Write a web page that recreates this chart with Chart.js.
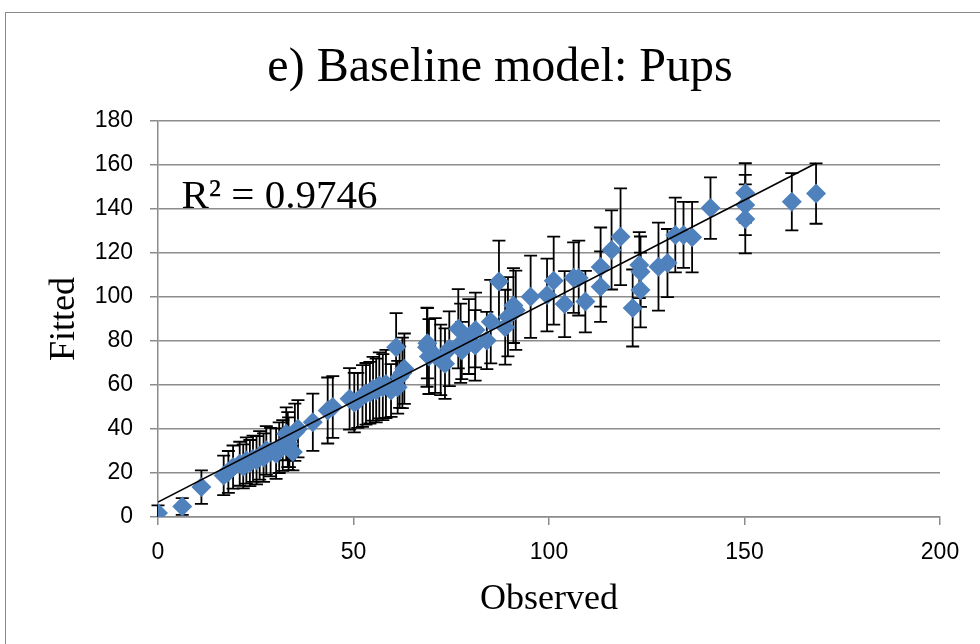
<!DOCTYPE html>
<html>
<head>
<meta charset="utf-8">
<title>e) Baseline model: Pups</title>
<script src="https://cdn.jsdelivr.net/npm/chart.js@4.4.1/dist/chart.umd.min.js"></script>
<style>
  html, body { margin: 0; padding: 0; background: #fff; }
  #wrap { position: relative; width: 980px; height: 644px; overflow: hidden; }
  #frame { position: absolute; left: 5px; top: 12px; width: 1000px; height: 700px; border: 1.5px solid #8a8a8a; }
  canvas { position: absolute; left: 0; top: 0; }
</style>
</head>
<body>
<div id="wrap">
  <div id="frame"></div>
  <canvas id="chart" width="980" height="644"></canvas>
</div>
<script>
// values
const observed = [0, 6.2, 11.1, 16.8, 18.0, 19.2, 20.9, 21.8, 22.6, 23.5, 24.3, 25.2, 26.0, 27.0, 27.7, 28.8,
  30.2, 31.0, 31.9, 32.8, 33.2, 33.4, 33.6, 34.5, 35.0, 35.8, 39.6, 43.4, 44.7, 49.0, 50.2, 51.1, 52.3, 53.2,
  54.2, 55.0, 55.8, 56.6, 57.5, 58.3, 59.6, 60.9, 61.3, 61.8, 62.5, 63.0, 68.8, 68.9, 69.3, 70.9, 72.3, 73.4,
  74.5, 76.8, 77.4, 77.7, 79.5, 81.1, 81.2, 84.1, 85.1, 87.2, 88.8, 89.5, 90.9, 91.5, 95.3, 99.5, 101.2, 104.0,
  106.3, 107.6, 109.3, 113.2, 113.2, 116.0, 118.3, 121.4, 123.1, 123.4, 123.4, 128.0, 130.3, 132.3, 134.4,
  136.6, 141.3, 150.2, 150.2, 150.2, 162.1, 168.3];
const fitted = [1.8, 4.8, 13.6, 18.9, 20.5, 22.7, 24.2, 23.0, 25.7, 24.5, 26.5, 25.8, 28.0, 27.0, 30.3, 29.5,
  28.8, 31.5, 32.5, 37.8, 35.2, 33.3, 31.0, 29.5, 38.5, 40.1, 43.1, 48.4, 50.0, 53.7, 52.0, 53.0, 55.0, 56.0,
  56.5, 58.3, 57.5, 59.8, 59.0, 60.5, 57.5, 77.2, 59.0, 63.6, 65.5, 67.4, 77.2, 79.0, 72.9, 73.4, 71.4, 69.7,
  76.5, 85.6, 79.0, 75.7, 82.0, 78.0, 85.0, 80.2, 88.8, 107.0, 86.3, 91.0, 96.1, 94.0, 100.1, 100.9, 107.4, 96.8,
  108.8, 108.6, 97.9, 104.7, 113.6, 121.4, 127.4, 95.0, 114.5, 111.5, 103.2, 113.8, 115.4, 128.2, 128.2,
  127.2, 140.4, 147.3, 141.8, 135.5, 143.3, 147.0];
const fittedErr = [3.5, 3.8, 7.6, 9, 9.5, 9.8, 10, 10, 10.5, 10.5, 10.5, 11, 11, 11, 11, 11,
  11.5, 11.5, 11.5, 12, 12.5, 12, 8.3, 8.3, 13, 13, 13, 15, 14, 14, 13.5, 12.5, 14, 14,
  14, 14.5, 14.5, 15, 15, 15.5, 12, 15.5, 12, 14, 16, 16, 18, 16, 17, 17, 16, 16,
  17, 18, 18, 13, 17, 16, 17, 13, 19, 18.6, 17, 18, 17, 18, 18.7, 16.5, 20, 15,
  16, 17, 14, 16, 18, 18, 22, 17.5, 15, 16, 17, 20, 15.5, 17, 15,
  16, 14, 13.5, 13.7, 15.7, 13, 13.7];

// linear trendline end points
const trendX = [0, 168.3];
const trendY = [6.8, 160.8];
const rSquaredLabel = 'R² = 0.9746';

const xTicks = [0, 50, 100, 150, 200];
const yTicks = [0, 20, 40, 60, 80, 100, 120, 140, 160, 180];

const serif = "'Liberation Serif', 'Times New Roman', serif";
const sans = "'Liberation Sans', Arial, sans-serif";
const gridGray = '#8c8c8c';

const points = observed.map((x, i) => ({ x: x, y: fitted[i] }));
const trend = trendX.map((x, i) => ({ x: x, y: trendY[i] }));

// vertical error bars, drawn under the markers
const errorBars = {
    id: 'errorBars',
    beforeDatasetsDraw(chart) {
        const { ctx, chartArea } = chart;
        const xs = chart.scales.x;
        const ys = chart.scales.y;
        ctx.save();
        ctx.strokeStyle = '#000';
        ctx.lineWidth = 1.8;
        observed.forEach((obs, i) => {
            const px = xs.getPixelForValue(obs);
            const top = ys.getPixelForValue(fitted[i] + fittedErr[i]);
            const bot = Math.min(ys.getPixelForValue(fitted[i] - fittedErr[i]), chartArea.bottom);
            ctx.beginPath();
            ctx.moveTo(px, top);
            ctx.lineTo(px, bot);
            ctx.moveTo(px - 6.5, top);
            ctx.lineTo(px + 6.5, top);
            if (bot < chartArea.bottom) {
                ctx.moveTo(px - 6.5, bot);
                ctx.lineTo(px + 6.5, bot);
            }
            ctx.stroke();
        });
        ctx.restore();
    }
};

// chart title and the R² text
const labels = {
    id: 'labels',
    afterDraw(chart) {
        const { ctx } = chart;
        ctx.save();
        ctx.fillStyle = '#000';
        ctx.textAlign = 'center';
        ctx.textBaseline = 'alphabetic';
        ctx.font = '48px ' + serif;
        ctx.fillText('e) Baseline model: Pups', 500, 81);

        ctx.textAlign = 'left';
        ctx.font = '41px ' + serif;
        ctx.fillText(rSquaredLabel, chart.scales.x.getPixelForValue(6.0), chart.scales.y.getPixelForValue(140.6));
        ctx.restore();
    }
};

new Chart(document.getElementById('chart'), {
    type: 'scatter',
    data: {
        datasets: [
            {
                type: 'line',
                label: 'Linear trend',
                data: trend,
                borderColor: '#000',
                borderWidth: 1.6,
                pointRadius: 0,
                fill: false
            },
            {
                label: 'Fitted',
                data: points,
                pointStyle: 'rectRot',
                pointRadius: 10,
                pointBackgroundColor: '#4F81BD',
                pointBorderWidth: 0,
                showLine: false
            }
        ]
    },
    options: {
        responsive: false,
        animation: false,
        devicePixelRatio: 1,
        layout: { padding: { top: 121, right: 40, bottom: 0, left: 0 } },
        plugins: {
            legend: { display: false },
            tooltip: { enabled: false },
            title: { display: false }
        },
        scales: {
            x: {
                type: 'linear',
                position: 'bottom',
                min: xTicks[0],
                max: xTicks[xTicks.length - 1],
                afterFit(scale) { scale.height = 127; },
                afterBuildTicks(scale) { scale.ticks = xTicks.map(v => ({ value: v })); },
                ticks: { font: { family: sans, size: 23 }, color: '#000', padding: 14 },
                grid: { drawOnChartArea: false, tickLength: 8, tickColor: gridGray, lineWidth: 1.5 },
                border: { color: gridGray, width: 1.5 },
                title: {
                    display: true,
                    text: 'Observed',
                    font: { family: serif, size: 36, lineHeight: 1.2 },
                    color: '#000',
                    padding: { top: 0, bottom: 23 }
                }
            },
            y: {
                type: 'linear',
                min: yTicks[0],
                max: yTicks[yTicks.length - 1],
                afterFit(scale) { scale.width = 158; },
                afterBuildTicks(scale) { scale.ticks = yTicks.map(v => ({ value: v })); },
                ticks: { font: { family: sans, size: 23 }, color: '#000', padding: 17 },
                grid: { color: gridGray, tickColor: gridGray, tickLength: 8, lineWidth: 1.5 },
                border: { color: gridGray, width: 1.5 },
                title: {
                    display: true,
                    text: 'Fitted',
                    font: { family: serif, size: 36, lineHeight: 1.2 },
                    color: '#000',
                    padding: { top: 43, bottom: 0 }
                }
            }
        }
    },
    plugins: [errorBars, labels]
});
</script>
</body>
</html>
